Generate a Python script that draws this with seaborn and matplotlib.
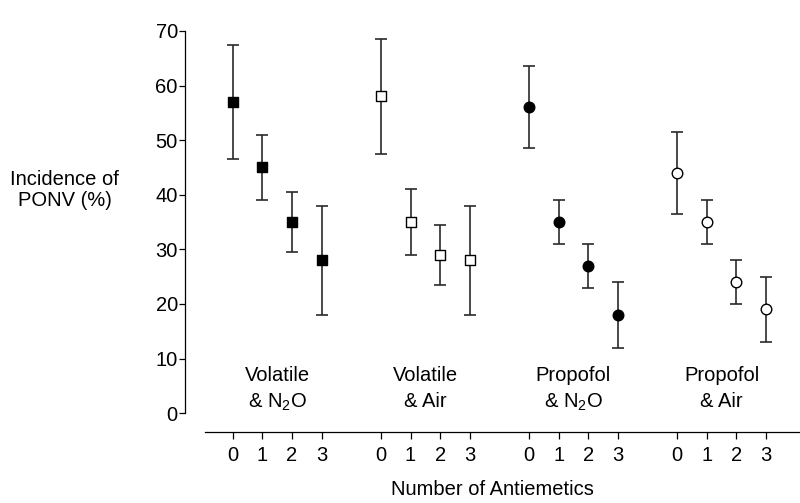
import numpy as np
import pandas as pd
import seaborn as sns
import matplotlib.pyplot as plt

# groups and readings
group_top = ['Volatile', 'Volatile', 'Propofol', 'Propofol']
group_bottom = ['& N$_2$O', '& Air', '& N$_2$O', '& Air']
antiemetics = [0, 1, 2, 3]
incidence = [[57, 45, 35, 28],
             [58, 35, 29, 28],
             [56, 35, 27, 18],
             [44, 35, 24, 19]]
lower = [[46.5, 39, 29.5, 18],
         [47.5, 29, 23.5, 18],
         [48.5, 31, 23, 12],
         [36.5, 31, 20, 13]]
upper = [[67.5, 51, 40.5, 38],
         [68.5, 41, 34.5, 38],
         [63.5, 39, 31, 24],
         [51.5, 39, 28, 25]]

markers = ['s', 's', 'o', 'o']
filled = [True, False, True, False]

sns.set_style("ticks")
plt.rcParams['font.family'] = ['Liberation Sans', 'DejaVu Sans']
plt.rcParams['mathtext.fontset'] = 'custom'
plt.rcParams['mathtext.rm'] = 'Liberation Sans'
plt.rcParams['mathtext.it'] = 'Liberation Sans'
for key in ['text.color', 'axes.labelcolor', 'xtick.color', 'ytick.color', 'axes.edgecolor']:
    plt.rcParams[key] = 'black'

FS = 14.5

fig = plt.figure(figsize=(8, 5.03), dpi=100)
ax = fig.add_axes([0.231, 0.141, 0.769, 0.803])

rows = []
for g in range(len(group_top)):
    for i, n in enumerate(antiemetics):
        rows.append({'group': g, 'pos': g * 5 + i, 'n': n,
                     'val': incidence[g][i], 'lo': lower[g][i], 'hi': upper[g][i]})
df = pd.DataFrame(rows)

for g in range(len(group_top)):
    sub = df[df['group'] == g]
    ax.errorbar(sub['pos'], sub['val'],
                yerr=[sub['val'] - sub['lo'], sub['hi'] - sub['val']],
                fmt='none', ecolor='#2a2a2a', elinewidth=1.2, capsize=4.5,
                capthick=1.2, zorder=2)
    sns.scatterplot(data=sub, x='pos', y='val', ax=ax, marker=markers[g],
                    s=62 if markers[g] == 's' else 58,
                    color='black' if filled[g] else 'white',
                    edgecolor='black', linewidth=1.0, zorder=3, legend=False)
    # two-line group label
    ax.text(g * 5 + 1.5, 5.9, group_top[g], ha='center', va='baseline', fontsize=FS)
    ax.text(g * 5 + 1.5, 1.1, group_bottom[g], ha='center', va='baseline', fontsize=FS)

ax.set_xlim(-1.62, 19.15)
ax.set_ylim(-3.45, 70.5)
ax.set_yticks(range(0, 71, 10))
ax.set_xticks(df['pos'])
ax.set_xticklabels(df['n'])
ax.tick_params(axis='both', labelsize=FS, color='black', labelcolor='black', width=0.9)
ax.tick_params(axis='y', length=4, pad=1)
ax.tick_params(axis='x', length=5, pad=5)

for s in ['top', 'right']:
    ax.spines[s].set_visible(False)
ax.spines['left'].set_bounds(0, 70)
ax.spines['bottom'].set_bounds(-0.95, 19.15)
ax.spines['left'].set_linewidth(0.9)
ax.spines['bottom'].set_linewidth(0.9)

ax.set_xlabel('Number of Antiemetics', fontsize=FS, labelpad=11)
ax.set_ylabel('')
fig.text(0.081, 0.622, 'Incidence of\nPONV (%)', ha='center', va='center',
         fontsize=FS, linespacing=1.15)

fig.savefig('out.png', dpi=100)
